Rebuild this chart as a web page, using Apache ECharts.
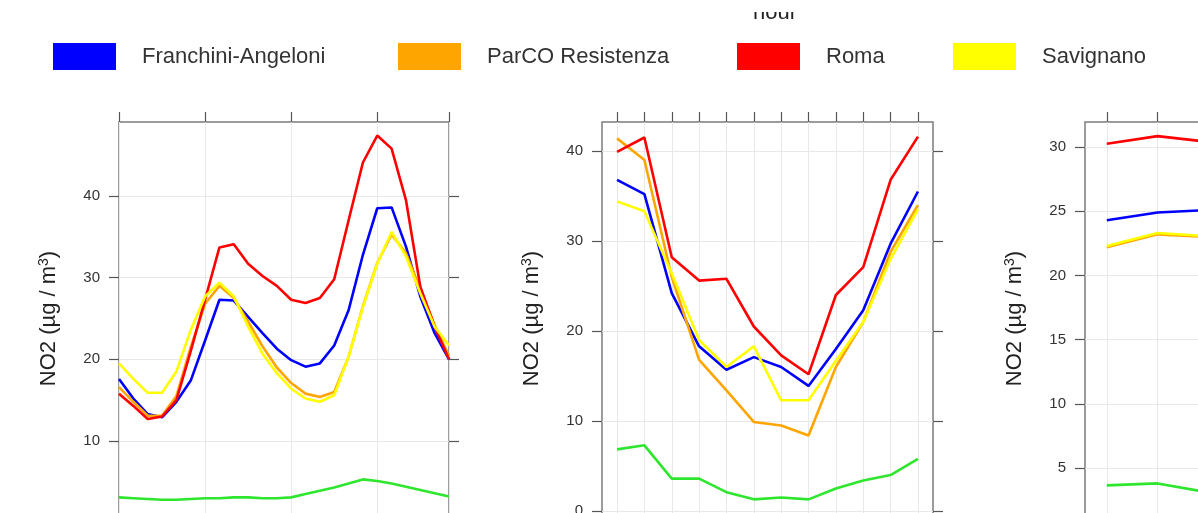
<!DOCTYPE html>
<html>
<head>
<meta charset="utf-8">
<script src="https://cdn.jsdelivr.net/npm/echarts@6/dist/echarts.min.js"></script>
<style>
  html, body { margin: 0; padding: 0; overflow: hidden; background: #ffffff; }
  #chart { width: 1450px; height: 600px; }
</style>
</head>
<body>
<div id="chart"></div>
<script>
// Mean NO2 concentrations (µg/m³) by hour of day, month and day of week.
const hours = [0, 1, 2, 3, 4, 5, 6, 7, 8, 9, 10, 11, 12, 13, 14, 15, 16, 17, 18, 19, 20, 21, 22, 23];
const months = [1, 2, 3, 4, 5, 6, 7, 8, 9, 10, 11, 12];
const weekdays = [1, 2, 3];

const siteNames = ['Franchini-Angeloni', 'ParCO Resistenza', 'Roma', 'Savignano'];
const siteColors = ['#0000ff', '#ffa500', '#ff0000', '#ffff00', '#2ee62e'];

// hour of day
const hourFranchini = [17.6, 15.2, 13.3, 12.9, 14.8, 17.4, 22.3, 27.3, 27.2, 25.2, 23.2, 21.3, 19.9, 19.1, 19.5, 21.7, 26.0, 32.8, 38.5, 38.6, 33.8, 27.7, 23.2, 20.0];
const hourParco    = [16.6, 14.8, 13.1, 13.1, 15.5, 21.5, 26.8, 29.0, 27.5, 24.6, 21.6, 19.0, 17.1, 15.8, 15.4, 16.0, 20.3, 26.5, 31.8, 35.3, 33.0, 28.6, 24.2, 20.4];
const hourRoma     = [15.8, 14.3, 12.7, 13.0, 15.0, 21.0, 27.3, 33.7, 34.1, 31.7, 30.2, 29.0, 27.3, 26.9, 27.5, 29.8, 37.0, 44.1, 47.4, 45.8, 39.5, 28.9, 24.0, 20.0];
const hourSavign   = [19.5, 17.6, 15.9, 15.9, 18.5, 23.6, 27.7, 29.4, 27.7, 24.0, 20.7, 18.3, 16.4, 15.2, 14.8, 15.6, 20.3, 26.4, 31.7, 35.6, 32.6, 28.1, 24.0, 21.7];
const hourFifth    = [3.1, 3.0, 2.9, 2.8, 2.8, 2.9, 3.0, 3.0, 3.1, 3.1, 3.0, 3.0, 3.1, 3.5, 3.9, 4.3, 4.8, 5.3, 5.1, 4.8, 4.4, 4.0, 3.6, 3.2];

// month
const monthFranchini = [36.8, 35.2, 24.2, 18.3, 15.7, 17.1, 16.0, 13.9, 18.0, 22.3, 29.7, 35.5];
const monthParco     = [41.4, 39.0, 26.0, 16.8, 13.4, 9.9, 9.5, 8.4, 16.0, 21.0, 28.8, 34.0];
const monthRoma      = [39.9, 41.5, 28.2, 25.6, 25.8, 20.5, 17.3, 15.2, 24.0, 27.1, 36.8, 41.6];
const monthSavign    = [34.4, 33.3, 26.4, 19.0, 16.0, 18.3, 12.3, 12.3, 16.7, 21.0, 28.0, 33.5];
const monthFifth     = [6.85, 7.3, 3.6, 3.6, 2.1, 1.3, 1.5, 1.3, 2.5, 3.4, 4.0, 5.8];

// day of week
const dayFranchini = [24.3, 24.9, 25.1];
const dayParco     = [22.2, 23.2, 23.0];
const dayRoma      = [30.25, 30.85, 30.4];
const daySavign    = [22.3, 23.3, 23.05];
const dayFifth     = [3.65, 3.8, 3.1];

// tick positions
const hourTicksY = [10, 20, 30, 40];
const monthTicksY = [0, 10, 20, 30, 40];
const dayTicksY = [5, 10, 15, 20, 25, 30];

const panels = [
  { x: hours, series: [hourFranchini, hourParco, hourRoma, hourSavign, hourFifth],
    left: 119, width: 330, xMin: 0, xMax: 23, xInterval: 6, xTicks: null,
    yMin: 0.94, yMax: 49.06, yTicks: hourTicksY },
  { x: months, series: [monthFranchini, monthParco, monthRoma, monthSavign, monthFifth],
    left: 602, width: 331, xMin: 0.45, xMax: 12.55, xTicks: months,
    yMin: -0.44, yMax: 43.22, yTicks: monthTicksY },
  { x: weekdays, series: [dayFranchini, dayParco, dayRoma, daySavign, dayFifth],
    left: 1085, width: 348, xMin: 0.57, xMax: 7.43, xTicks: [1, 2, 3, 4, 5, 6, 7],
    yMin: 1.34, yMax: 31.95, yTicks: dayTicksY }
];

const frameColor = '#7c7c7c';
const tickColor = '#555555';
const gridLineColor = '#e8e8e8';
const textColor = '#333333';
const fontFamily = '"Liberation Sans", Arial, Helvetica, sans-serif';

const grids = [], xAxes = [], yAxes = [], series = [];

panels.forEach((p, i) => {
  grids.push({
    left: p.left, top: 122, width: p.width, height: 393,
    show: true, borderColor: frameColor, borderWidth: 1.5, backgroundColor: 'transparent'
  });

  const xTick = { show: true, length: 10, lineStyle: { color: tickColor, width: 1.2 } };
  const xAxis = {
    gridIndex: i, type: 'value', position: 'top',
    min: p.xMin, max: p.xMax,
    axisLine: { show: false, onZero: false },
    axisTick: xTick,
    axisLabel: { show: false },
    splitLine: { show: true, lineStyle: { color: gridLineColor, width: 1 } }
  };
  if (p.xTicks) {
    xAxis.axisTick = Object.assign({}, xTick, { customValues: p.xTicks });
    xAxis.axisLabel = { show: false, customValues: p.xTicks };
  } else {
    xAxis.interval = p.xInterval;
  }
  xAxes.push(xAxis);

  yAxes.push({
    gridIndex: i, type: 'value', position: 'left',
    min: p.yMin, max: p.yMax,
    axisLine: { show: false, onZero: false },
    axisTick: { show: true, length: 10, customValues: p.yTicks, lineStyle: { color: tickColor, width: 1.2 } },
    axisLabel: { show: true, customValues: p.yTicks, margin: 19, color: textColor, fontSize: 15, fontFamily: fontFamily },
    splitLine: { show: true, lineStyle: { color: gridLineColor, width: 1 } },
    name: 'NO2 (µg / m{sup|3})',
    nameLocation: 'middle', nameGap: 58,
    nameTextStyle: {
      color: '#222222', fontSize: 22, fontFamily: fontFamily,
      rich: { sup: { fontSize: 14, verticalAlign: 'top', padding: [0, 0, 10, 0], color: '#222222', fontFamily: fontFamily } }
    }
  });
  yAxes.push({
    gridIndex: i, type: 'value', position: 'right',
    min: p.yMin, max: p.yMax,
    axisLine: { show: false, onZero: false },
    axisTick: { show: true, length: 10, customValues: p.yTicks, lineStyle: { color: tickColor, width: 1.2 } },
    axisLabel: { show: false, customValues: p.yTicks },
    splitLine: { show: false }
  });

  p.series.forEach((vals, k) => {
    series.push({
      type: 'line',
      name: k < siteNames.length ? siteNames[k] : 'fifth',
      xAxisIndex: i, yAxisIndex: 2 * i,
      data: vals.map((v, j) => [p.x[j], v]),
      symbol: 'none',
      color: siteColors[k],
      lineStyle: { width: 2.6, color: siteColors[k] },
      z: 2 + k,
      silent: true
    });
  });
});

// one legend block per site, laid out in a single row
const legendLefts = [53, 398, 737, 953];
const legends = siteNames.map((name, k) => ({
  data: [{ name: name, icon: 'rect', itemStyle: { color: siteColors[k], borderWidth: 0 } }],
  left: legendLefts[k], top: 43, padding: 0,
  itemWidth: 63, itemHeight: 27,
  selectedMode: false,
  textStyle: { color: textColor, fontSize: 22, fontFamily: fontFamily, padding: [0, 0, 0, 21] }
}));

const chart = echarts.init(document.getElementById('chart'), null, { renderer: 'canvas' });
chart.setOption({
  animation: false,
  backgroundColor: '#ffffff',
  legend: legends,
  grid: grids,
  xAxis: xAxes,
  yAxis: yAxes,
  series: series,
  graphic: [
    { type: 'text', left: 753, top: 2, z: 10,
      style: { text: 'hour', fill: '#222222', fontSize: 22, fontFamily: fontFamily } },
    { type: 'rect', shape: { x: 700, y: 0, width: 160, height: 12 }, z: 11,
      style: { fill: '#ffffff' } }
  ]
});
</script>
</body>
</html>
